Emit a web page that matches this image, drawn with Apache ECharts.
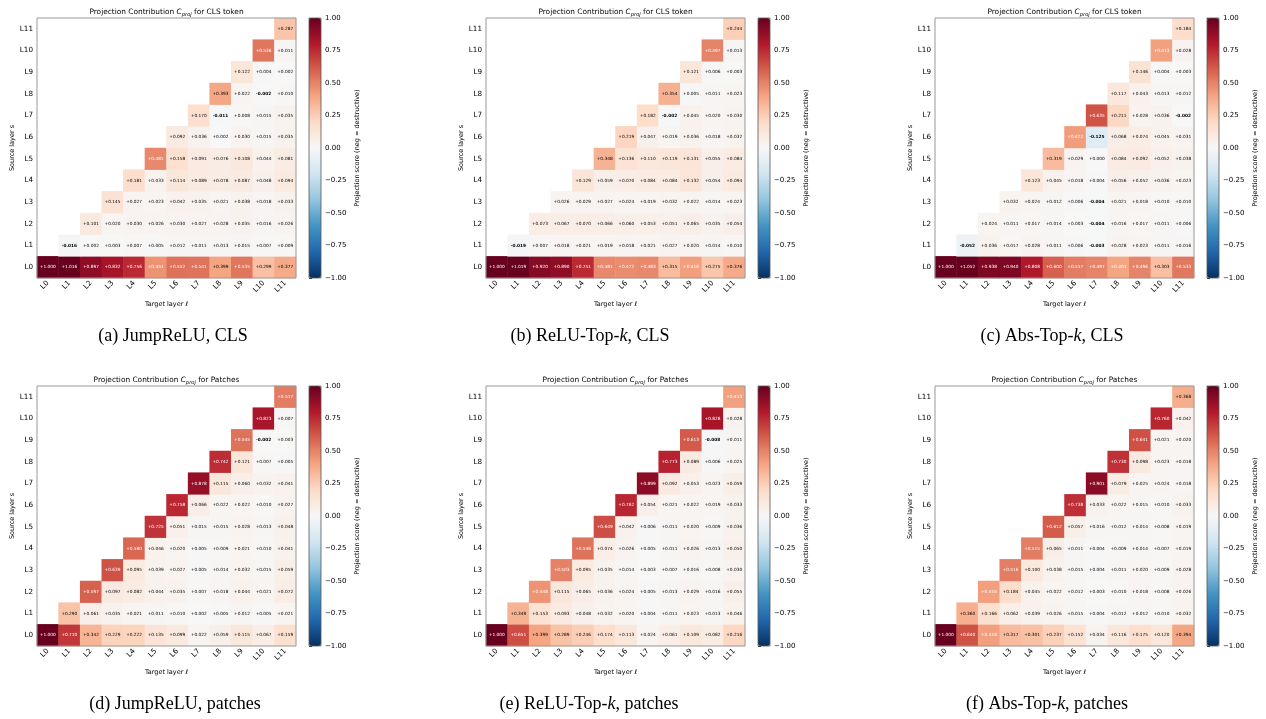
<!DOCTYPE html>
<html>
<head>
<meta charset="utf-8">
<script src="https://cdn.jsdelivr.net/npm/echarts@6/dist/echarts.min.js"></script>
<style>
  html, body { margin: 0; padding: 0; background: #fff; }
  #chart { width: 1266px; height: 719px; }
</style>
</head>
<body>
<div id="chart"></div>
<script>
// layer names, source rows start at the diagonal (target >= source)
const layers = ['L0', 'L1', 'L2', 'L3', 'L4', 'L5', 'L6', 'L7', 'L8', 'L9', 'L10', 'L11']

const jumpreluCls = [
  [1.000, 1.016, 0.897, 0.832, 0.756, 0.451, 0.552, 0.541, 0.399, 0.535, 0.299, 0.377],
  [-0.016, 0.002, 0.003, 0.007, 0.005, 0.012, 0.011, 0.013, 0.015, 0.007, 0.009],
  [0.101, 0.020, 0.030, 0.026, 0.030, 0.027, 0.028, 0.035, 0.016, 0.026],
  [0.145, 0.027, 0.023, 0.042, 0.035, 0.021, 0.038, 0.018, 0.033],
  [0.181, 0.033, 0.114, 0.089, 0.078, 0.087, 0.048, 0.094],
  [0.481, 0.158, 0.091, 0.076, 0.108, 0.044, 0.081],
  [0.092, 0.036, 0.002, 0.030, 0.015, 0.035],
  [0.170, -0.011, 0.008, 0.015, 0.035],
  [0.393, 0.022, -0.002, 0.010],
  [0.122, 0.004, 0.002],
  [0.536, 0.011],
  [0.287]
]

const reluTopkCls = [
  [1.000, 1.019, 0.920, 0.890, 0.751, 0.481, 0.472, 0.483, 0.315, 0.416, 0.275, 0.376],
  [-0.019, 0.007, 0.018, 0.021, 0.019, 0.018, 0.021, 0.027, 0.020, 0.014, 0.010],
  [0.073, 0.067, 0.070, 0.066, 0.060, 0.053, 0.051, 0.065, 0.035, 0.054],
  [0.026, 0.029, 0.027, 0.024, 0.019, 0.032, 0.022, 0.014, 0.023],
  [0.129, 0.059, 0.070, 0.084, 0.084, 0.132, 0.054, 0.094],
  [0.348, 0.136, 0.110, 0.119, 0.131, 0.055, 0.084],
  [0.219, 0.047, 0.019, 0.036, 0.018, 0.032],
  [0.182, -0.002, 0.045, 0.020, 0.030],
  [0.354, 0.005, 0.011, 0.023],
  [0.121, 0.006, 0.003],
  [0.497, 0.013],
  [0.244]
]

const absTopkCls = [
  [1.000, 1.052, 0.938, 0.940, 0.808, 0.600, 0.517, 0.497, 0.401, 0.496, 0.303, 0.533],
  [-0.052, 0.036, 0.017, 0.028, 0.011, 0.006, -0.003, 0.028, 0.023, 0.011, 0.016],
  [0.024, 0.011, 0.017, 0.014, 0.003, -0.004, 0.016, 0.017, 0.011, 0.006],
  [0.032, 0.024, 0.012, 0.006, -0.004, 0.021, 0.018, 0.010, 0.010],
  [0.123, 0.045, 0.018, 0.004, 0.056, 0.052, 0.036, 0.023],
  [0.319, 0.029, 0.000, 0.084, 0.092, 0.052, 0.038],
  [0.422, -0.125, 0.068, 0.074, 0.045, 0.031],
  [0.635, 0.211, 0.028, 0.036, -0.002],
  [0.117, 0.043, 0.013, 0.012],
  [0.146, 0.004, 0.003],
  [0.413, 0.028],
  [0.184]
]

const jumpreluPatch = [
  [1.000, 0.710, 0.342, 0.229, 0.222, 0.135, 0.099, 0.022, 0.059, 0.115, 0.067, 0.159],
  [0.290, 0.061, 0.035, 0.021, 0.011, 0.010, 0.002, 0.005, 0.012, 0.005, 0.021],
  [0.597, 0.097, 0.082, 0.044, 0.035, 0.007, 0.018, 0.044, 0.021, 0.072],
  [0.639, 0.095, 0.039, 0.027, 0.005, 0.014, 0.032, 0.015, 0.059],
  [0.580, 0.046, 0.020, 0.005, 0.009, 0.021, 0.010, 0.041],
  [0.725, 0.051, 0.015, 0.015, 0.028, 0.013, 0.048],
  [0.758, 0.066, 0.022, 0.022, 0.010, 0.027],
  [0.878, 0.115, 0.060, 0.032, 0.041],
  [0.742, 0.121, 0.007, 0.005],
  [0.545, -0.002, 0.003],
  [0.823, 0.007],
  [0.517]
]

const reluTopkPatch = [
  [1.000, 0.651, 0.399, 0.289, 0.246, 0.174, 0.113, 0.024, 0.061, 0.109, 0.082, 0.216],
  [0.349, 0.153, 0.093, 0.048, 0.032, 0.020, 0.004, 0.011, 0.023, 0.013, 0.046],
  [0.448, 0.115, 0.065, 0.036, 0.024, 0.005, 0.013, 0.029, 0.016, 0.055],
  [0.503, 0.095, 0.035, 0.014, 0.003, 0.007, 0.016, 0.008, 0.030],
  [0.546, 0.074, 0.026, 0.005, 0.011, 0.026, 0.013, 0.050],
  [0.649, 0.042, 0.006, 0.011, 0.020, 0.009, 0.036],
  [0.762, 0.054, 0.021, 0.022, 0.019, 0.033],
  [0.899, 0.092, 0.053, 0.023, 0.059],
  [0.773, 0.089, 0.006, 0.025],
  [0.613, -0.008, 0.011],
  [0.828, 0.028],
  [0.413]
]

const absTopkPatch = [
  [1.000, 0.640, 0.418, 0.317, 0.301, 0.237, 0.152, 0.034, 0.116, 0.175, 0.120, 0.394],
  [0.360, 0.166, 0.062, 0.039, 0.026, 0.015, 0.004, 0.012, 0.012, 0.010, 0.032],
  [0.416, 0.184, 0.045, 0.022, 0.012, 0.003, 0.010, 0.018, 0.008, 0.026],
  [0.516, 0.100, 0.038, 0.015, 0.004, 0.011, 0.020, 0.009, 0.028],
  [0.515, 0.065, 0.011, 0.004, 0.009, 0.014, 0.007, 0.019],
  [0.612, 0.057, 0.016, 0.012, 0.014, 0.008, 0.019],
  [0.738, 0.033, 0.022, 0.015, 0.010, 0.033],
  [0.901, 0.079, 0.025, 0.024, 0.018],
  [0.730, 0.098, 0.023, 0.018],
  [0.641, 0.021, 0.020],
  [0.760, 0.042],
  [0.368]
]

// colour bar range and tick step
const cbMin = -1
const cbMax = 1
const cbStep = 0.25

// RdBu_r
const rdbu = ['#053061', '#2166ac', '#4393c3', '#92c5de', '#d1e5f0', '#f7f7f7',
  '#fddbc7', '#f4a582', '#d6604d', '#b2182b', '#67001f']

const panels = [
  { rows: jumpreluCls, what: 'CLS token', cap: '(a) JumpReLU, CLS', left: 37, top: 18, capX: 173 },
  { rows: reluTopkCls, what: 'CLS token', cap: '(b) ReLU-Top-{k|k}, CLS', left: 486, top: 18, capX: 590 },
  { rows: absTopkCls, what: 'CLS token', cap: '(c) Abs-Top-{k|k}, CLS', left: 935, top: 18, capX: 1052 },
  { rows: jumpreluPatch, what: 'Patches', cap: '(d) JumpReLU, patches', left: 37, top: 386, capX: 175 },
  { rows: reluTopkPatch, what: 'Patches', cap: '(e) ReLU-Top-{k|k}, patches', left: 486, top: 386, capX: 589 },
  { rows: absTopkPatch, what: 'Patches', cap: '(f) Abs-Top-{k|k}, patches', left: 935, top: 386, capX: 1047 }
]

const W = 259
const H = 260
const FONT = 'DejaVu Sans'

function fmt(v) {
  return (v >= 0 ? '+' : '') + v.toFixed(3)
}

const grid = []
const xAxis = []
const yAxis = []
const series = []
const visualMap = []
const graphic = []

panels.forEach(function (p, i) {
  const gi = i * 2
  const ci = i * 2 + 1
  const cbLeft = p.left + W + 13

  grid.push({ left: p.left, top: p.top, width: W, height: H })
  grid.push({ left: cbLeft, top: p.top, width: 12, height: H })

  xAxis.push({
    gridIndex: gi, type: 'category', data: layers,
    name: 'Target layer ℓ', nameLocation: 'middle', nameGap: 23,
    nameTextStyle: { fontFamily: FONT, fontSize: 6.5, color: '#000' },
    axisLine: { show: false },
    axisTick: { alignWithLabel: true, length: 3, lineStyle: { color: '#333' } },
    axisLabel: { rotate: 45, fontFamily: FONT, fontSize: 7.2, color: '#000', margin: 4 },
    splitLine: { show: false }
  })
  yAxis.push({
    gridIndex: gi, type: 'category', data: layers,
    name: 'Source layer s', nameLocation: 'middle', nameGap: 21, nameRotate: 90,
    nameTextStyle: { fontFamily: FONT, fontSize: 6.5, color: '#000' },
    axisLine: { show: false },
    axisTick: { alignWithLabel: true, length: 3, lineStyle: { color: '#333' } },
    axisLabel: { fontFamily: FONT, fontSize: 7.2, color: '#000', margin: 4 },
    splitLine: { show: false }
  })

  // colour bar axis
  xAxis.push({ gridIndex: ci, type: 'value', show: false })
  yAxis.push({
    gridIndex: ci, type: 'value', position: 'right', min: cbMin, max: cbMax, interval: cbStep,
    name: 'Projection score (neg = destructive)', nameLocation: 'middle', nameGap: 33, nameRotate: 90,
    nameTextStyle: { fontFamily: FONT, fontSize: 6.5, color: '#000' },
    axisLine: { show: false },
    axisTick: { show: true, length: 3, lineStyle: { color: '#333' } },
    axisLabel: {
      fontFamily: FONT, fontSize: 7, color: '#000', margin: 4,
      formatter: function (v) { return (v < 0 ? '\u2212' : '') + Math.abs(v).toFixed(2) }
    },
    splitLine: { show: false }
  })

  const data = []
  p.rows.forEach(function (row, s) {
    row.forEach(function (v, k) {
      const t = s + k
      data.push({
        value: [t, s, Math.max(cbMin, Math.min(cbMax, v)), v],
        label: {
          color: Math.abs(v) >= 0.4 ? '#fff' : '#000',
          fontWeight: v < 0 ? 'bold' : 'normal'
        }
      })
    })
  })

  series.push({
    type: 'heatmap',
    xAxisIndex: gi,
    yAxisIndex: gi,
    data: data,
    label: {
      show: true,
      fontFamily: FONT,
      fontSize: 4.3,
      formatter: function (params) { return fmt(params.value[3]) }
    },
    emphasis: { disabled: true },
    silent: true
  })

  visualMap.push({
    type: 'continuous', seriesIndex: i, dimension: 2,
    min: cbMin, max: cbMax, inRange: { color: rdbu },
    left: cbLeft, top: p.top, itemWidth: 12, itemHeight: H,
    padding: 0, calculable: false, hoverLink: false, text: null, showLabel: false
  })

  // frames
  graphic.push({
    type: 'rect', z: 100, silent: true,
    shape: { x: p.left, y: p.top, width: W, height: H },
    style: { fill: null, stroke: '#999', lineWidth: 1 }
  })
  graphic.push({
    type: 'rect', z: 100, silent: true,
    shape: { x: cbLeft, y: p.top, width: 12, height: H },
    style: { fill: null, stroke: '#555', lineWidth: 0.8 }
  })

  // title
  graphic.push({
    type: 'text', z: 100, silent: true,
    x: p.left + W / 2, y: p.top - 6,
    style: {
      text: '{n|Projection Contribution }{c|C}{s|proj}{n| for ' + p.what + '}',
      align: 'center', verticalAlign: 'middle',
      rich: {
        n: { fontFamily: FONT, fontSize: 7.4, color: '#000', lineHeight: 10, verticalAlign: 'middle' },
        c: { fontFamily: FONT, fontSize: 7.4, fontStyle: 'italic', color: '#000', lineHeight: 10, verticalAlign: 'middle' },
        s: { fontFamily: FONT, fontSize: 5.2, fontStyle: 'italic', color: '#000', lineHeight: 10, verticalAlign: 'bottom', padding: [3, 0, 0, 0] }
      }
    }
  })

  // caption
  graphic.push({
    type: 'text', z: 100, silent: true,
    x: p.capX, y: p.top + 318,
    style: {
      text: p.cap,
      align: 'center', verticalAlign: 'middle',
      fontFamily: 'Liberation Serif', fontSize: 18, fill: '#000',
      rich: {
        k: { fontFamily: 'Liberation Serif', fontSize: 18, fontStyle: 'italic', color: '#000' }
      }
    }
  })
})

const chart = echarts.init(document.getElementById('chart'), null, { renderer: 'canvas' })
chart.setOption({
  animation: false,
  backgroundColor: '#fff',
  grid: grid,
  xAxis: xAxis,
  yAxis: yAxis,
  visualMap: visualMap,
  series: series,
  graphic: graphic
})
</script>
</body>
</html>
